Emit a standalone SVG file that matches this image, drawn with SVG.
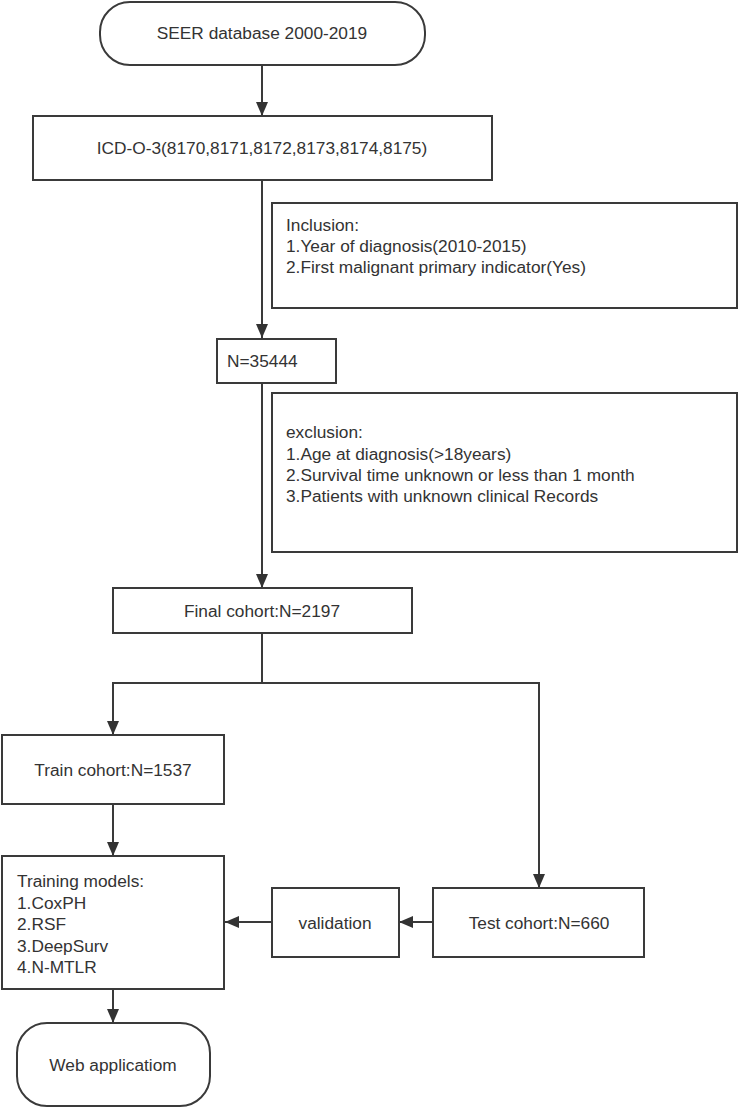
<svg xmlns="http://www.w3.org/2000/svg" width="739" height="1109" viewBox="0 0 739 1109">
<style>
.box{fill:#fff;stroke:#3a3a3a;stroke-width:2}
.t{font-family:"Liberation Sans",Arial,sans-serif;font-size:17.3px;fill:#333}
.c{text-anchor:middle}
.ln{fill:none;stroke:#3a3a3a;stroke-width:2}
</style>
<defs>
<marker id="ah" viewBox="0 0 14 12" refX="14" refY="6" markerWidth="14" markerHeight="12" markerUnits="userSpaceOnUse" orient="auto">
<path d="M0,0 L14,6 L0,12 Z" fill="#333"/>
</marker>
</defs>
<rect width="739" height="1109" fill="#fff"/>
<g id="connectors">
<line class="ln" x1="262" y1="65" x2="262" y2="116" marker-end="url(#ah)"/>
<line class="ln" x1="262" y1="180" x2="262" y2="338" marker-end="url(#ah)"/>
<line class="ln" x1="262" y1="383" x2="262" y2="588" marker-end="url(#ah)"/>
<polyline class="ln" points="262,633 262,683"/>
<polyline class="ln" points="113,735 113,683 539,683 539,888" marker-end="url(#ah)"/>
<line class="ln" x1="113" y1="683" x2="113" y2="735" marker-end="url(#ah)"/>
<line class="ln" x1="113" y1="804" x2="113" y2="856" marker-end="url(#ah)"/>
<line class="ln" x1="433" y1="922" x2="399" y2="922" marker-end="url(#ah)"/>
<line class="ln" x1="272" y1="922" x2="225" y2="922" marker-end="url(#ah)"/>
<line class="ln" x1="113" y1="989" x2="113" y2="1023" marker-end="url(#ah)"/>
</g>
<g id="seer">
<rect class="box" x="100" y="2" width="325" height="63" rx="30" ry="30"/>
<text class="t c" x="262" y="39">SEER database 2000-2019</text>
</g>
<g id="icd">
<rect class="box" x="33" y="116" width="459" height="64"/>
<text class="t c" x="262" y="154">ICD-O-3(8170,8171,8172,8173,8174,8175)</text>
</g>
<g id="inclusion">
<rect class="box" x="272" y="203" width="465" height="105"/>
<text class="t" x="286" y="231">Inclusion:</text>
<text class="t" x="286" y="252">1.Year of diagnosis(2010-2015)</text>
<text class="t" x="286" y="273">2.First malignant primary indicator(Yes)</text>
</g>
<g id="n35444">
<rect class="box" x="217" y="339" width="119" height="44"/>
<text class="t" x="227" y="367">N=35444</text>
</g>
<g id="exclusion">
<rect class="box" x="272" y="393" width="465" height="159"/>
<text class="t" x="286" y="438">exclusion:</text>
<text class="t" x="286" y="460">1.Age at diagnosis(&gt;18years)</text>
<text class="t" x="286" y="481">2.Survival time unknown or less than 1 month</text>
<text class="t" x="286" y="502">3.Patients with unknown clinical Records</text>
</g>
<g id="final">
<rect class="box" x="113" y="588" width="299" height="45"/>
<text class="t c" x="262" y="617">Final cohort:N=2197</text>
</g>
<g id="train">
<rect class="box" x="2" y="735" width="222" height="69"/>
<text class="t c" x="113" y="776">Train cohort:N=1537</text>
</g>
<g id="training">
<rect class="box" x="2" y="856" width="222" height="133"/>
<text class="t" x="17" y="887">Training models:</text>
<text class="t" x="17" y="909">1.CoxPH</text>
<text class="t" x="17" y="930">2.RSF</text>
<text class="t" x="17" y="952">3.DeepSurv</text>
<text class="t" x="17" y="973">4.N-MTLR</text>
</g>
<g id="validation">
<rect class="box" x="272" y="888" width="127" height="69"/>
<text class="t c" x="335" y="929">validation</text>
</g>
<g id="test">
<rect class="box" x="433" y="888" width="211" height="69"/>
<text class="t c" x="539" y="929">Test cohort:N=660</text>
</g>
<g id="web">
<rect class="box" x="17" y="1023" width="193" height="83" rx="30" ry="30"/>
<text class="t c" x="113" y="1071">Web applicatiom</text>
</g>
</svg>
